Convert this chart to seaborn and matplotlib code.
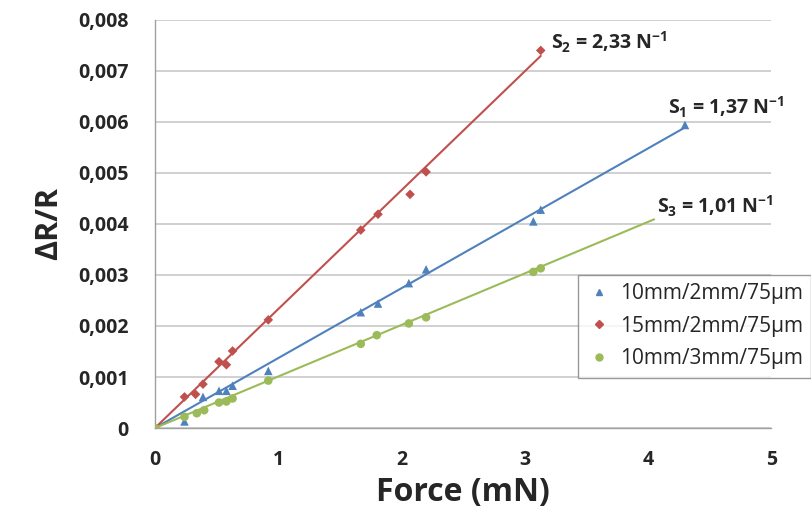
import matplotlib
matplotlib.use("Agg")
import matplotlib.pyplot as plt
import seaborn as sns
import pandas as pd
from matplotlib.ticker import FuncFormatter, MultipleLocator

# series labels / colours
labels = ["10mm/2mm/75µm", "15mm/2mm/75µm", "10mm/3mm/75µm"]
colors = ["#4F81BD", "#C0504D", "#9BBB59"]
markers = ["^", "D", "o"]
marker_sizes = [38, 24, 38]

# measured points (force in mN, dR/R)
force_1 = [0, 0.24, 0.39, 0.52, 0.58, 0.63, 0.92, 1.67, 1.81, 2.06, 2.2, 3.07, 3.13, 4.3]
dr_1 = [0, 0.00013, 0.00061, 0.00073, 0.00073, 0.00083, 0.00112, 0.00227, 0.00244,
        0.00284, 0.00311, 0.00405, 0.00428, 0.00594]
force_2 = [0, 0.24, 0.33, 0.39, 0.52, 0.58, 0.63, 0.92, 1.67, 1.81, 2.07, 2.2, 3.13]
dr_2 = [0, 0.00061, 0.00066, 0.00086, 0.0013, 0.00124, 0.00151, 0.00212, 0.00388,
        0.00419, 0.00458, 0.00502, 0.0074]
force_3 = [0, 0.24, 0.34, 0.4, 0.52, 0.58, 0.63, 0.92, 1.67, 1.8, 2.06, 2.2, 3.07, 3.13]
dr_3 = [0, 0.00022, 0.00029, 0.00035, 0.0005, 0.00052, 0.00058, 0.00093, 0.00165,
        0.00182, 0.00205, 0.00217, 0.00306, 0.00313]

# linear fits through origin (slope in N^-1, fit range in mN)
slopes = [1.37, 2.33, 1.01]
fit_end = [4.3, 3.13, 4.05]
fit_labels = ["S$_1$ = 1,37 N$^{-1}$", "S$_2$ = 2,33 N$^{-1}$", "S$_3$ = 1,01 N$^{-1}$"]
label_pos = [(4.16, 0.00629), (3.21, 0.00755), (4.07, 0.00435)]

df = pd.concat([
    pd.DataFrame({"force": f, "dr": d, "sample": lab})
    for f, d, lab in zip([force_1, force_2, force_3], [dr_1, dr_2, dr_3], labels)
])

sns.set_style("white")
plt.rcParams["font.family"] = ["Open Sans", "DejaVu Sans"]
plt.rcParams["mathtext.fontset"] = "custom"
plt.rcParams["mathtext.rm"] = "Open Sans:bold"
plt.rcParams["mathtext.it"] = "Open Sans:bold"
plt.rcParams["mathtext.bf"] = "Open Sans:bold"

fig = plt.figure(figsize=(8.11, 5.22), dpi=100)
ax = fig.add_axes([0.191, 0.18, 0.76, 0.782])

ax.yaxis.grid(True, color="#c8c8c8", linewidth=1.2)
ax.set_axisbelow(True)

for i in range(3):
    xs = [0, fit_end[i]]
    ax.plot(xs, [slopes[i] * x / 1000 for x in xs], color=colors[i], linewidth=1.5, zorder=2)

sns.scatterplot(data=df, x="force", y="dr", hue="sample", style="sample", size="sample",
                palette=dict(zip(labels, colors)), markers=dict(zip(labels, markers)),
                sizes=dict(zip(labels, marker_sizes)),
                edgecolor="none", ax=ax, zorder=3, legend=False)

for i in range(3):
    ax.text(label_pos[i][0], label_pos[i][1], fit_labels[i], fontsize=14,
            fontweight="bold", va="center", ha="left")

ax.set_xlim(0, 5)
ax.set_ylim(0, 0.008)
ax.xaxis.set_major_locator(MultipleLocator(1))
ax.yaxis.set_major_locator(MultipleLocator(0.001))
ax.yaxis.set_major_formatter(FuncFormatter(lambda v, p: "0" if abs(v) < 1e-9 else f"{v:.3f}".replace(".", ",")))

for s in ["top", "right"]:
    ax.spines[s].set_visible(False)
for s in ["left", "bottom"]:
    ax.spines[s].set_color("#a0a0a0")
    ax.spines[s].set_linewidth(1.0)
ax.tick_params(axis="both", direction="out", length=5, color="#a0a0a0", width=1,
               labelsize=14)
ax.tick_params(axis="y", pad=14)
ax.tick_params(axis="x", pad=11)
for t in ax.get_xticklabels() + ax.get_yticklabels():
    t.set_fontweight("bold")

ax.set_xlabel("Force (mN)", fontsize=23, fontweight="bold", labelpad=4)
ax.set_ylabel("ΔR/R", fontsize=22, fontweight="bold", labelpad=10)

handles = [plt.Line2D([], [], linestyle="none", marker=m, color=c, markersize=ms)
           for m, c, ms in zip(markers, colors, [5, 4, 5])]
fig.legend(handles, labels, loc="upper left", bbox_to_anchor=(578 / 811, 1 - 275 / 522),
           frameon=True, fancybox=False, edgecolor="#808080", fontsize=15,
           handletextpad=0.4, handlelength=1.2, borderpad=0.4, labelspacing=0.55,
           borderaxespad=0)

fig.savefig("out.png", dpi=100)
